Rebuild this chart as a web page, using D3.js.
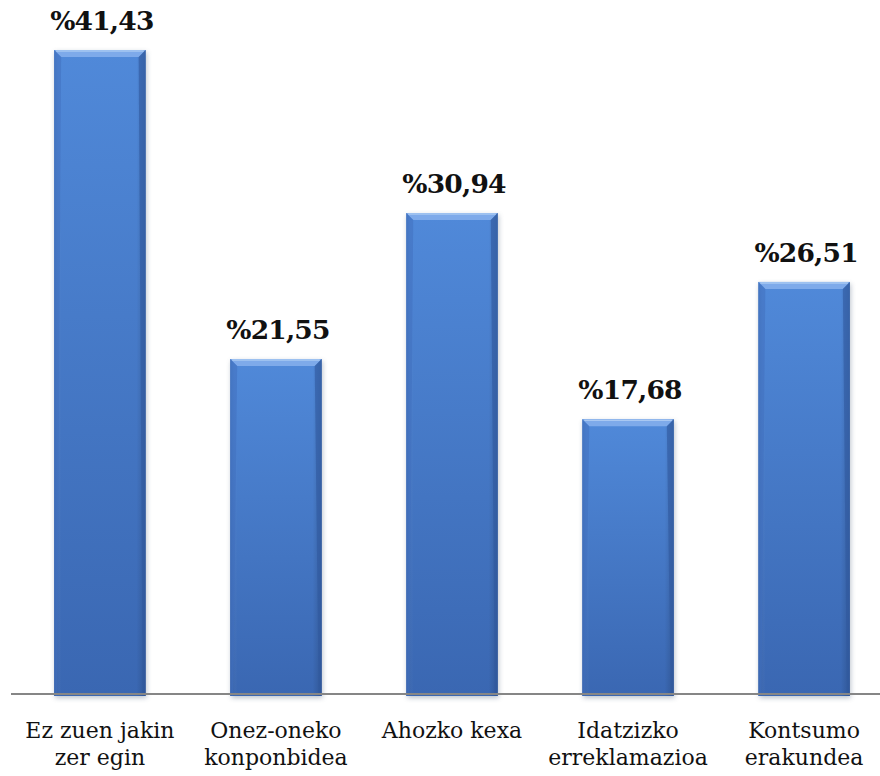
<!DOCTYPE html>
<html>
<head>
<meta charset="utf-8">
<script src="https://cdn.jsdelivr.net/npm/d3@7"></script>
<style>
  html, body { margin: 0; padding: 0; background: #ffffff; }
  svg { display: block; }
</style>
</head>
<body>
<svg id="chart" width="880" height="776"></svg>
<script>
// Categories (two-line labels) and their percentage values
const categories = [
  ["Ez zuen jakin", "zer egin"],
  ["Onez-oneko", "konponbidea"],
  ["Ahozko kexa"],
  ["Idatzizko", "erreklamazioa"],
  ["Kontsumo", "erakundea"]
];
const values = [41.43, 21.55, 30.94, 17.68, 26.51];
const valueLabels = ["%41,43", "%21,55", "%30,94", "%17,68", "%26,51"];

const svg = d3.select("#chart");
const baseY = 694;

const x = d3.scaleBand()
  .domain(d3.range(categories.length))
  .range([11, 893])
  .paddingInner(0.48)
  .paddingOuter(0.245);

const y = d3.scaleLinear()
  .domain([0, 45])
  .range([baseY, baseY - 45 * 15.544]);

const defs = svg.append("defs");

const body = defs.append("linearGradient")
  .attr("id", "barBody").attr("x1", 0).attr("y1", 0).attr("x2", 0).attr("y2", 1);
body.append("stop").attr("offset", "0%").attr("stop-color", "#5089d9");
body.append("stop").attr("offset", "100%").attr("stop-color", "#3a67b2");

const side = defs.append("linearGradient")
  .attr("id", "barSide").attr("x1", 0).attr("y1", 0).attr("x2", 1).attr("y2", 0);
side.append("stop").attr("offset", "0%").attr("stop-color", "#000").attr("stop-opacity", 0.10);
side.append("stop").attr("offset", "8%").attr("stop-color", "#fff").attr("stop-opacity", 0.0);
side.append("stop").attr("offset", "90%").attr("stop-color", "#000").attr("stop-opacity", 0.0);
side.append("stop").attr("offset", "100%").attr("stop-color", "#000").attr("stop-opacity", 0.16);

const shadow = defs.append("filter").attr("id", "shadow")
  .attr("x", "-20%").attr("y", "-5%").attr("width", "140%").attr("height", "110%");
shadow.append("feGaussianBlur").attr("stdDeviation", 2.5);

const bars = svg.append("g").selectAll("g")
  .data(values)
  .join("g");

// soft shadow behind each bar
bars.append("rect")
  .attr("x", (d, i) => x(i) + 1)
  .attr("y", d => y(d) + 2)
  .attr("width", x.bandwidth())
  .attr("height", d => y(0) - y(d) + 2)
  .attr("fill", "#6b7a90")
  .attr("opacity", 0.45)
  .attr("filter", "url(#shadow)");

bars.append("rect")
  .attr("x", (d, i) => x(i))
  .attr("y", d => y(d))
  .attr("width", x.bandwidth())
  .attr("height", d => y(0) - y(d) + 2)
  .attr("fill", "url(#barBody)");

bars.append("rect")
  .attr("x", (d, i) => x(i))
  .attr("y", d => y(d))
  .attr("width", x.bandwidth())
  .attr("height", d => y(0) - y(d) + 2)
  .attr("fill", "url(#barSide)");

// bevelled top edge
const bev = 7;
bars.append("polygon")
  .attr("points", (d, i) => {
    const x0 = x(i), x1 = x(i) + x.bandwidth(), t = y(d);
    return [[x0, t], [x1, t], [x1 - bev, t + bev], [x0 + bev, t + bev]].join(" ");
  })
  .attr("fill", "#7eaaea");
bars.append("line")
  .attr("x1", (d, i) => x(i) + 2)
  .attr("x2", (d, i) => x(i) + x.bandwidth() - 2)
  .attr("y1", d => y(d) + 1)
  .attr("y2", d => y(d) + 1)
  .attr("stroke", "#a9c8f2").attr("stroke-width", 1.5);
// left and right bevels
bars.append("polygon")
  .attr("points", (d, i) => {
    const x0 = x(i), t = y(d), b = y(0) + 2;
    return [[x0, t], [x0 + bev, t + bev], [x0 + 3, b], [x0, b]].join(" ");
  })
  .attr("fill", "#3f70bf").attr("opacity", 0.55);
bars.append("polygon")
  .attr("points", (d, i) => {
    const x1 = x(i) + x.bandwidth(), t = y(d), b = y(0) + 2;
    return [[x1, t], [x1 - bev, t + bev], [x1 - 3, b], [x1, b]].join(" ");
  })
  .attr("fill", "#30599e").attr("opacity", 0.6);

// baseline axis
svg.append("line")
  .attr("x1", 11).attr("x2", 880)
  .attr("y1", baseY).attr("y2", baseY)
  .attr("stroke", "#868686").attr("stroke-width", 2);

// value labels
svg.append("g").selectAll("text")
  .data(values)
  .join("text")
  .attr("x", (d, i) => x(i) + x.bandwidth() / 2 + 2)
  .attr("y", d => y(d) - 20)
  .attr("text-anchor", "middle")
  .attr("font-family", "'DejaVu Serif', serif")
  .attr("font-weight", "bold")
  .attr("font-size", 26.5)
  .attr("letter-spacing", -0.8)
  .attr("fill", "#111")
  .text((d, i) => valueLabels[i]);

// category labels
const cat = svg.append("g").selectAll("text")
  .data(categories)
  .join("text")
  .attr("x", (d, i) => x(i) + x.bandwidth() / 2)
  .attr("y", 738)
  .attr("text-anchor", "middle")
  .attr("font-family", "'DejaVu Serif', serif")
  .attr("font-size", 22)
  .attr("fill", "#111");
cat.selectAll("tspan")
  .data(d => d)
  .join("tspan")
  .attr("x", function() { return d3.select(this.parentNode).attr("x"); })
  .attr("dy", (d, j) => j === 0 ? 0 : 27)
  .text(d => d);
</script>
</body>
</html>
